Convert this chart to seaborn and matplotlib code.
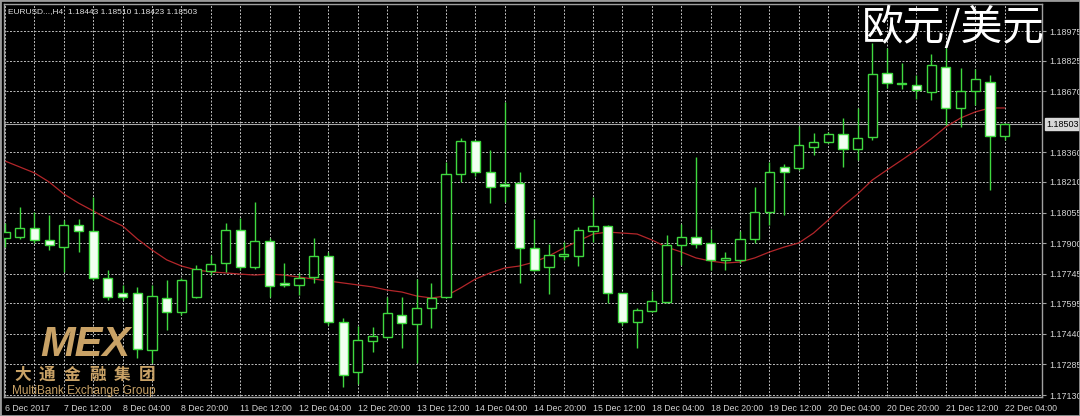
import numpy as np
import pandas as pd
import matplotlib.pyplot as plt
import matplotlib.transforms as mtransforms
import seaborn as sns

# EURUSD H4 bars from 6 Dec 2017 20:00 to 22 Dec 2017 04:00
opens = [1.17926, 1.17931, 1.17977, 1.17916, 1.17880, 1.17992, 1.17961, 1.17723, 1.17647, 1.17647,
         1.17358, 1.17622, 1.17551, 1.17627, 1.17759, 1.17799, 1.17967, 1.17779, 1.17911, 1.17698,
         1.17688, 1.17728, 1.17835, 1.17500, 1.17247, 1.17404, 1.17424, 1.17536, 1.17490, 1.17571,
         1.17627, 1.18250, 1.18418, 1.18261, 1.18200, 1.18205, 1.17875, 1.17779, 1.17835, 1.17835,
         1.17961, 1.17987, 1.17647, 1.17500, 1.17556, 1.17602, 1.17891, 1.17931, 1.17901, 1.17815,
         1.17815, 1.17921, 1.18058, 1.18286, 1.18281, 1.18387, 1.18413, 1.18453, 1.18377, 1.18438,
         1.18763, 1.18712, 1.18702, 1.18666, 1.18793, 1.18585, 1.18671, 1.18717, 1.18443]
highs = [1.18002, 1.18083, 1.18058, 1.18043, 1.18017, 1.18022, 1.18134, 1.17764, 1.17688, 1.17678,
         1.17688, 1.17713, 1.17723, 1.17789, 1.17840, 1.18002, 1.18027, 1.18109, 1.17926, 1.17799,
         1.17749, 1.17926, 1.17855, 1.17520, 1.17480, 1.17475, 1.17627, 1.17627, 1.17718, 1.17698,
         1.18311, 1.18433, 1.18423, 1.18372, 1.18616, 1.18261, 1.18022, 1.17896, 1.17906, 1.17982,
         1.18134, 1.17992, 1.17647, 1.17571, 1.17657, 1.17941, 1.17997, 1.18337, 1.17972, 1.17855,
         1.17961, 1.18185, 1.18311, 1.18301, 1.18494, 1.18458, 1.18463, 1.18534, 1.18585, 1.18915,
         1.18889, 1.18813, 1.18752, 1.18859, 1.18889, 1.18788, 1.18783, 1.18752, 1.18510]
lows = [1.17880, 1.17921, 1.17901, 1.17865, 1.17754, 1.17855, 1.17713, 1.17612, 1.17612, 1.17318,
        1.17292, 1.17460, 1.17536, 1.17622, 1.17738, 1.17754, 1.17764, 1.17769, 1.17627, 1.17678,
        1.17637, 1.17698, 1.17485, 1.17171, 1.17186, 1.17348, 1.17419, 1.17368, 1.17292, 1.17470,
        1.17622, 1.18210, 1.18240, 1.18103, 1.18109, 1.17698, 1.17759, 1.17642, 1.17815, 1.17784,
        1.17906, 1.17596, 1.17485, 1.17368, 1.17551, 1.17596, 1.17789, 1.17875, 1.17764, 1.17764,
        1.17799, 1.17901, 1.17992, 1.18043, 1.18271, 1.18347, 1.18408, 1.18286, 1.18321, 1.18423,
        1.18686, 1.18681, 1.18631, 1.18626, 1.18499, 1.18489, 1.18600, 1.18169, 1.18423]
closes = [1.17956, 1.17977, 1.17916, 1.17891, 1.17992, 1.17961, 1.17723, 1.17627, 1.17627, 1.17363,
          1.17632, 1.17551, 1.17713, 1.17769, 1.17794, 1.17967, 1.17779, 1.17911, 1.17683, 1.17688,
          1.17723, 1.17835, 1.17500, 1.17231, 1.17409, 1.17429, 1.17546, 1.17495, 1.17571, 1.17622,
          1.18250, 1.18418, 1.18261, 1.18185, 1.18190, 1.17875, 1.17764, 1.17840, 1.17845, 1.17967,
          1.17987, 1.17647, 1.17500, 1.17561, 1.17607, 1.17891, 1.17931, 1.17896, 1.17815, 1.17825,
          1.17921, 1.18058, 1.18261, 1.18261, 1.18398, 1.18413, 1.18453, 1.18377, 1.18433, 1.18757,
          1.18712, 1.18707, 1.18676, 1.18803, 1.18585, 1.18671, 1.18732, 1.18443, 1.18503]
# moving average (red line)
ma = [1.18316, 1.18286, 1.18256, 1.18210, 1.18149, 1.18103, 1.18063, 1.18022, 1.17987, 1.17921,
      1.17865, 1.17815, 1.17784, 1.17764, 1.17754, 1.17749, 1.17743, 1.17738, 1.17743, 1.17738,
      1.17728, 1.17718, 1.17708, 1.17698, 1.17688, 1.17678, 1.17662, 1.17652, 1.17632, 1.17622,
      1.17632, 1.17673, 1.17718, 1.17749, 1.17774, 1.17784, 1.17804, 1.17835, 1.17875, 1.17911,
      1.17946, 1.17956, 1.17951, 1.17946, 1.17916, 1.17880, 1.17855, 1.17825, 1.17809, 1.17799,
      1.17804, 1.17825, 1.17855, 1.17880, 1.17901, 1.17951, 1.18017, 1.18088, 1.18149, 1.18220,
      1.18271, 1.18321, 1.18372, 1.18428, 1.18489, 1.18534, 1.18565, 1.18585, 1.18585]

x_labels = ["6 Dec 2017", "7 Dec 12:00", "8 Dec 04:00", "8 Dec 20:00", "11 Dec 12:00", "12 Dec 04:00",
            "12 Dec 20:00", "13 Dec 12:00", "14 Dec 04:00", "14 Dec 20:00", "15 Dec 12:00",
            "18 Dec 04:00", "18 Dec 20:00", "19 Dec 12:00", "20 Dec 04:00", "20 Dec 20:00",
            "21 Dec 12:00", "22 Dec 04:00"]
y_ticks = [1.17130, 1.17285, 1.17440, 1.17595, 1.17745, 1.17900, 1.18055, 1.18210, 1.18360,
           1.18670, 1.18825, 1.18975]
y_grid = y_ticks + [1.18515]
bid = 1.18503
header = "EURUSD...,H4  1.18443 1.18510 1.18423 1.18503"
title = "欧元/美元"

sns.set_theme(style="dark")
plt.rcParams["font.family"] = ["Liberation Sans", "DejaVu Sans"]

df = pd.DataFrame({"open": opens, "high": highs, "low": lows, "close": closes, "ma": ma})
df["bar"] = np.arange(len(df))
up = df[df["close"] >= df["open"]]
down = df[df["close"] < df["open"]]

green = "#3fd83f"
grid_c = "#bdbdbd"
dash = (0, (2.0, 1.6))

fig = plt.figure(figsize=(10.8, 4.16), dpi=100, facecolor="black")
ax = fig.add_axes([4 / 1080, 19 / 416, 1038 / 1080, 393 / 416])
ax.set_facecolor("black")

# grid
ax.hlines(y_grid, -1, 72, colors=grid_c, linestyles=dash, lw=0.7, zorder=1)
ax.vlines(df["bar"][::2], 1.17, 1.20, colors=grid_c, linestyles=dash, lw=0.7, zorder=1)

# bid line
ax.axhline(bid, color="#a8a8a8", lw=0.8, zorder=1)

# moving average
sns.lineplot(x=df["bar"], y=df["ma"], ax=ax, color="#b3262a", lw=0.9, zorder=2, legend=False)

# candles
ax.vlines(df["bar"], df["low"], df["high"], colors=green, lw=1.0, zorder=3)
ax.bar(up["bar"], (up["close"] - up["open"]).clip(lower=0.00001), bottom=up["open"], width=0.62,
       color="black", edgecolor=green, lw=1.0, zorder=4)
ax.bar(down["bar"], down["open"] - down["close"], bottom=down["close"], width=0.62,
       color="#f2fff2", edgecolor=green, lw=1.0, zorder=4)

ax.set_xlim(-0.07, 70.54)
ax.set_ylim(1.17120, 1.19112)
ax.set_xlabel("")
ax.set_ylabel("")

for s in ax.spines.values():
    s.set_visible(True)
    s.set_color("#a0a0a0")
    s.set_linewidth(1.0)

ax.yaxis.tick_right()
ax.set_yticks(y_ticks)
ax.set_yticklabels([f"{v:.5f}" for v in y_ticks])
ax.set_xticks(df["bar"][::4])
ax.set_xticklabels(x_labels, ha="left")
ax.tick_params(axis="y", colors="#a0a0a0", labelcolor="#d4d4d4", labelsize=6.5, length=3,
               width=0.8, pad=2, direction="out")
ax.tick_params(axis="x", colors="#a0a0a0", labelcolor="#d4d4d4", labelsize=6.3, length=3,
               width=0.8, pad=2, direction="out")

# current price label
trans = mtransforms.blended_transform_factory(ax.transAxes, ax.transData)
ax.text(1.0045, bid, f"{bid:.5f}", transform=trans, ha="left", va="center", fontsize=6.5,
        color="black", bbox=dict(boxstyle="square,pad=0.15", fc="#d8d8d8", ec="#d8d8d8"))

# header and title
fig.text(8 / 1080, 1 - 12 / 416, header, color="#e0e0e0", fontsize=6, va="center", ha="left")
fig.text(1045 / 1080, 1 - 27 / 416, title, color="white", fontsize=30, va="center", ha="right",
         family=["Noto Sans CJK SC", "DejaVu Sans"])

# watermark logo
gold = "#c9a266"
fig.text(40 / 1080, 1 - 345 / 416, "MEX", color=gold, fontsize=30, fontweight="bold",
         fontstyle="italic", va="center", ha="left")
for k, ch in enumerate("大通金融集团"):
    fig.text((14 + 25 * k) / 1080, 1 - 375 / 416, ch, color=gold, fontsize=12, fontweight="bold",
             va="center", ha="left", family=["Noto Sans CJK SC", "DejaVu Sans"])
fig.text(12 / 1080, 1 - 391 / 416, "MultiBank Exchange Group", color=gold, fontsize=8.5,
         va="center", ha="left")

# window frame
fig.patches.append(plt.Rectangle((0, 0), 1, 1, transform=fig.transFigure, fill=False,
                                 ec="#9a9a9a", lw=2))

fig.savefig("out.png", dpi=100, facecolor="black")
